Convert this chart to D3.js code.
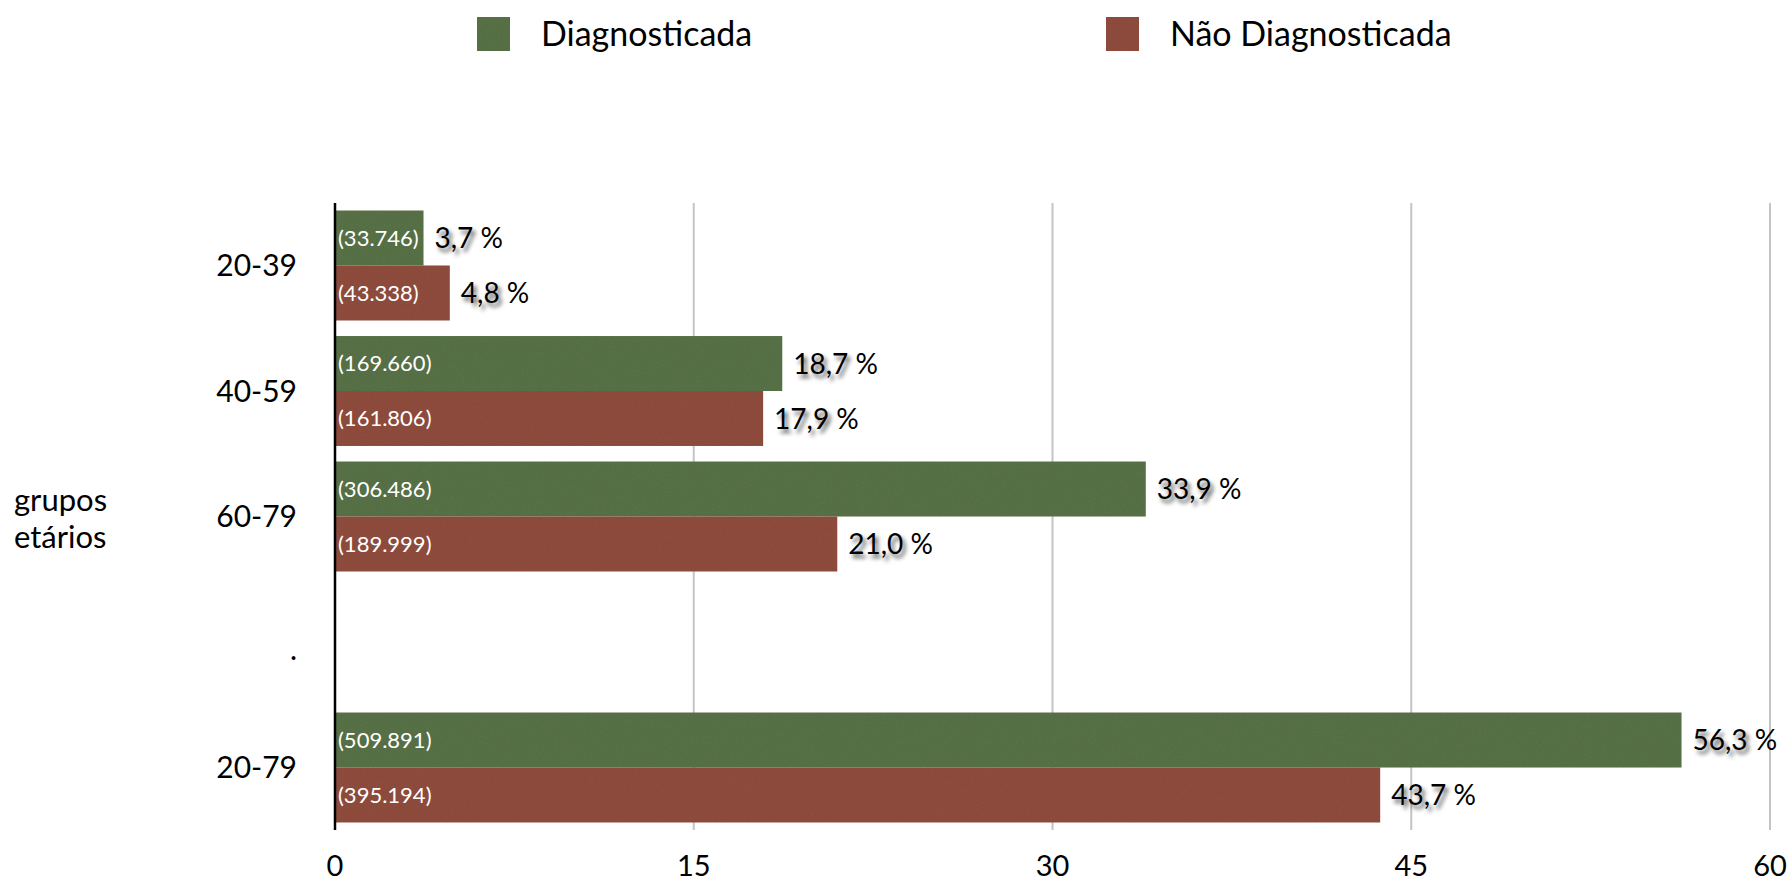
<!DOCTYPE html>
<html>
<head>
<meta charset="utf-8">
<script src="https://cdn.jsdelivr.net/npm/d3@7"></script>
<style>
  html, body { margin: 0; padding: 0; background: #fff; }
  svg { display: block; }
  text { font-family: Lato, "Open Sans", sans-serif; }
  .shadow { text-shadow: 3px 4px 4px rgba(0,0,0,0.65); }
</style>
</head>
<body>
<svg id="chart" width="1791" height="881"></svg>
<script>
// ---- data ----
const categories = ["20-39", "40-59", "60-79", ".", "20-79"];
const seriesNames = ["Diagnosticada", "Não Diagnosticada"];
const diagValues = [3.7, 18.7, 33.9, null, 56.3];
const naoDiagValues = [4.8, 17.9, 21.0, null, 43.7];
const diagCounts = ["(33.746)", "(169.660)", "(306.486)", null, "(509.891)"];
const naoDiagCounts = ["(43.338)", "(161.806)", "(189.999)", null, "(395.194)"];
const xTicks = [0, 15, 30, 45, 60];
const yTitle = ["grupos", "etários"];

// ---- layout ----
const colors = ["#5b7449", "#934f41"];
const svg = d3.select("#chart");
const plotLeft = 335, plotRight = 1770, plotTop = 203, plotBottom = 830;

const defs = svg.append("defs");
const f = defs.append("filter").attr("id", "noise").attr("x", 0).attr("y", 0).attr("width", 1).attr("height", 1);
f.append("feTurbulence").attr("type", "fractalNoise").attr("baseFrequency", "0.9").attr("numOctaves", 2).attr("seed", 3).attr("result", "n");
f.append("feColorMatrix").attr("in", "n").attr("type", "matrix")
  .attr("values", "0 0 0 0 0  0 0 0 0 0  0 0 0 0 0  0 0 0 0.18 0").attr("result", "a");
f.append("feComposite").attr("in", "a").attr("in2", "SourceGraphic").attr("operator", "in").attr("result", "b");
const fm = f.append("feMerge");
fm.append("feMergeNode").attr("in", "SourceGraphic");
fm.append("feMergeNode").attr("in", "b");

const x = d3.scaleLinear().domain([0, 60]).range([plotLeft, plotRight]);
const y = d3.scaleBand().domain(categories).range([plotTop, plotBottom]).paddingInner(0.124).paddingOuter(0.06);
const ySub = d3.scaleBand().domain(seriesNames).range([0, y.bandwidth()]);

// gridlines
svg.append("g").selectAll("line").data(xTicks.filter(t => t > 0)).join("line")
  .attr("x1", d => x(d)).attr("x2", d => x(d))
  .attr("y1", plotTop).attr("y2", plotBottom)
  .attr("stroke", "#c4c4c4").attr("stroke-width", 2);

// x tick labels
svg.append("g").selectAll("text").data(xTicks).join("text")
  .attr("x", d => x(d)).attr("y", 876)
  .attr("text-anchor", "middle").attr("font-size", 29).attr("fill", "#000")
  .text(d => d);

// category labels
svg.append("g").selectAll("text").data(categories).join("text")
  .attr("x", plotLeft - 38)
  .attr("y", d => y(d) + y.bandwidth() / 2)
  .attr("dy", d => d === "." ? "0.6em" : "0.36em")
  .attr("text-anchor", "end").attr("font-size", 30).attr("fill", "#000")
  .text(d => d);

// y title
svg.append("text").attr("x", 14).attr("y", 511).attr("font-size", 31).text(yTitle[0]);
svg.append("text").attr("x", 14).attr("y", 548).attr("font-size", 31).text(yTitle[1]);

// bars
const rows = [];
categories.forEach((c, i) => {
  if (diagValues[i] != null) rows.push({cat: c, s: seriesNames[0], v: diagValues[i], n: diagCounts[i], col: colors[0]});
  if (naoDiagValues[i] != null) rows.push({cat: c, s: seriesNames[1], v: naoDiagValues[i], n: naoDiagCounts[i], col: colors[1]});
});

const g = svg.append("g");
g.selectAll("rect").data(rows).join("rect")
  .attr("x", x(0))
  .attr("y", d => y(d.cat) + ySub(d.s))
  .attr("width", d => x(d.v) - x(0))
  .attr("height", ySub.bandwidth())
  .attr("fill", d => d.col)
  .attr("filter", "url(#noise)");

// count labels (white, inside)
g.selectAll("text.count").data(rows).join("text").attr("class", "count")
  .attr("x", x(0) + 3)
  .attr("y", d => y(d.cat) + ySub(d.s) + ySub.bandwidth() / 2)
  .attr("dy", "0.36em")
  .attr("font-size", 22).attr("fill", "#fff")
  .text(d => d.n);

// percentage labels
const fmt = v => v.toFixed(1).replace(".", ",");
const pl = g.selectAll("text.pct").data(rows).join("text").attr("class", "pct")
  .attr("x", d => x(d.v) + 11)
  .attr("y", d => y(d.cat) + ySub(d.s) + ySub.bandwidth() / 2)
  .attr("dy", "0.36em")
  .attr("font-size", 28).attr("fill", "#000");
pl.append("tspan").attr("class", "shadow").text(d => fmt(d.v));
pl.append("tspan").text(" %");

// axis line
svg.append("line").attr("x1", plotLeft).attr("x2", plotLeft).attr("y1", plotTop).attr("y2", plotBottom)
  .attr("stroke", "#000").attr("stroke-width", 2.5);

// legend
const legendX = [477, 1106];
const lg = svg.append("g").selectAll("g").data(seriesNames).join("g")
  .attr("transform", (d, i) => `translate(${legendX[i]},0)`);
lg.append("rect").attr("x", 0).attr("y", 17).attr("width", 33).attr("height", 34)
  .attr("fill", (d, i) => colors[i]).attr("filter", "url(#noise)");
lg.append("text").attr("x", 64).attr("y", 46).attr("font-size", 34).text(d => d);
</script>
</body>
</html>
